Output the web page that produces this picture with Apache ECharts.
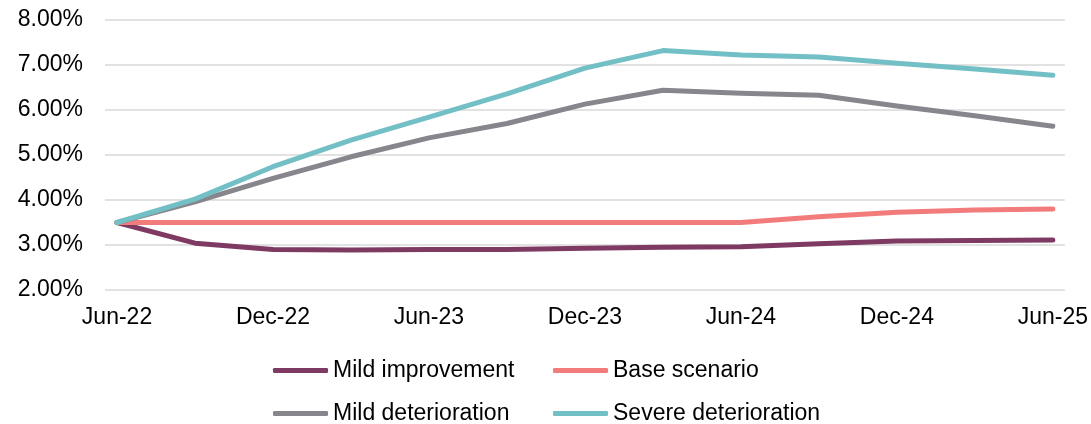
<!DOCTYPE html>
<html>
<head>
<meta charset="utf-8">
<script src="https://cdn.jsdelivr.net/npm/echarts@6/dist/echarts.min.js"></script>
<style>html,body{margin:0;padding:0;background:#fff;}#c{width:1091px;height:424px;}</style>
</head>
<body>
<div id="c"></div>
<script>
var categories = ['Jun-22','Sep-22','Dec-22','Mar-23','Jun-23','Sep-23','Dec-23','Mar-24','Jun-24','Sep-24','Dec-24','Mar-25','Jun-25'];
var tickLabels = ['Jun-22','Dec-22','Jun-23','Dec-23','Jun-24','Dec-24','Jun-25'];
var mildImprovement = [3.50, 3.04, 2.90, 2.89, 2.90, 2.90, 2.93, 2.95, 2.96, 3.03, 3.09, 3.10, 3.11];
var baseScenario = [3.50, 3.50, 3.50, 3.50, 3.50, 3.50, 3.50, 3.50, 3.50, 3.63, 3.73, 3.78, 3.80];
var mildDeterioration = [3.50, 3.96, 4.48, 4.96, 5.38, 5.70, 6.13, 6.44, 6.37, 6.33, 6.09, 5.87, 5.64];
var severeDeterioration = [3.50, 4.02, 4.74, 5.33, 5.84, 6.36, 6.93, 7.32, 7.22, 7.18, 7.04, 6.91, 6.77];

var FONT = "'Liberation Sans', Arial, sans-serif";
function pts(arr){ return arr.map(function(v,i){ return [i, v]; }); }
var tickIdx = tickLabels.map(function(t){ return categories.indexOf(t); });

function ser(name, data, color){
  return {name:name, type:'line', data:pts(data), showSymbol:false, symbol:'none',
    lineStyle:{color:color, width:5, cap:'round', join:'round'}, itemStyle:{color:color}, z:2};
}

var chart = echarts.init(document.getElementById('c'), null, {renderer:'canvas'});
chart.setOption({
  animation:false,
  backgroundColor:'#fff',
  grid:{left:105, right:26, top:20, bottom:134, containLabel:false},
  xAxis:{type:'value', min:-0.154, max:12.154,
    axisLine:{show:false}, axisTick:{show:false}, splitLine:{show:false},
    axisLabel:{customValues:tickIdx, margin:16, fontSize:23, lineHeight:23, color:'#000', fontFamily:FONT,
      formatter:function(v){ return categories[Math.round(v)]; }}},
  yAxis:{type:'value', min:2, max:8, interval:1,
    axisLine:{show:false}, axisTick:{show:false},
    splitLine:{lineStyle:{color:'#d9d9d9', width:1.5}},
    axisLabel:{margin:22, fontSize:23, color:'#000', fontFamily:FONT,
      formatter:function(v){ return v.toFixed(2)+'%'; }}},
  legend:[
    {orient:'vertical', left:273, top:359, height:90, padding:0, itemWidth:55, itemHeight:5, itemGap:20, icon:'roundRect',
      textStyle:{fontSize:23, lineHeight:23, color:'#000', fontFamily:FONT},
      data:['Mild improvement','Mild deterioration']},
    {orient:'vertical', left:553, top:359, height:90, padding:0, itemWidth:55, itemHeight:5, itemGap:20, icon:'roundRect',
      textStyle:{fontSize:23, lineHeight:23, color:'#000', fontFamily:FONT},
      data:['Base scenario','Severe deterioration']}
  ],
  series:[
    ser('Mild improvement', mildImprovement, '#7e3a62'),
    ser('Base scenario', baseScenario, '#f27c7c'),
    ser('Mild deterioration', mildDeterioration, '#87868c'),
    ser('Severe deterioration', severeDeterioration, '#72bfc6')
  ]
});
</script>
</body>
</html>
